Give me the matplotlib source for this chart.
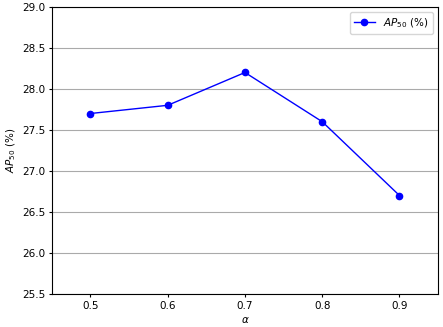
import matplotlib.pyplot as plt

alpha = [0.5, 0.6, 0.7, 0.8, 0.9]
ap50 = [27.7, 27.8, 28.2, 27.6, 26.7]

plt.rcParams['font.size'] = 7.5
plt.rcParams['xtick.major.size'] = 2.4
plt.rcParams['ytick.major.size'] = 2.4
plt.rcParams['xtick.major.pad'] = 2.4
plt.rcParams['ytick.major.pad'] = 2.4
plt.rcParams['axes.labelpad'] = 2.8

fig, ax = plt.subplots(figsize=(4.43, 3.27), dpi=100)
fig.subplots_adjust(left=0.117, right=0.989, top=0.979, bottom=0.101)

ax.plot(alpha, ap50, color='blue', marker='o', markersize=4.5, linewidth=1, label=r'$AP_{50}$ (%)')

ax.set_xlim(0.45, 0.95)
ax.set_ylim(25.5, 29.0)
ax.set_xticks(alpha)
ax.set_yticks([25.5, 26.0, 26.5, 27.0, 27.5, 28.0, 28.5, 29.0])
ax.yaxis.grid(True, color='#aaaaaa', linewidth=0.8)
ax.set_axisbelow(True)

ax.set_xlabel(r'$\alpha$')
ax.set_ylabel(r'$AP_{50}$ (%)')
ax.legend(loc='upper right')

fig.savefig('out.png', dpi=100)
